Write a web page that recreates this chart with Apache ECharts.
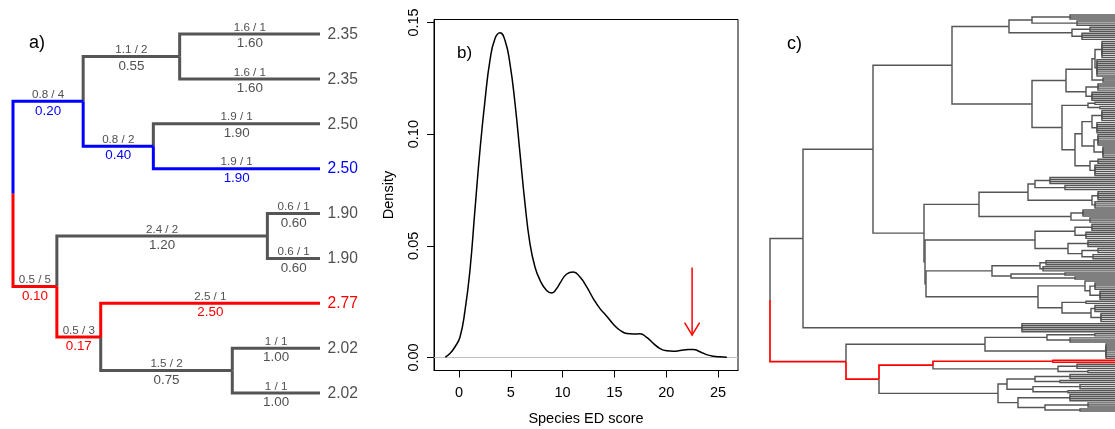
<!DOCTYPE html>
<html><head><meta charset="utf-8">
<script src="https://cdn.jsdelivr.net/npm/echarts@6/dist/echarts.min.js"></script>
<style>html,body{margin:0;padding:0;background:#fff}#c{width:1115px;height:429px}</style>
</head><body><div id="c"></div>
<script>
// ---------------- Panel a: small tree ----------------
const aParent    = [-1, 0, 1, 2, 2, 1, 5, 5, 0, 8, 9, 9, 8, 12, 12, 14, 14];
const aLength    = [0, 0.8, 1.1, 1.6, 1.6, 0.8, 1.9, 1.9, 0.5, 2.4, 0.6, 0.6, 0.5, 2.5, 1.5, 1, 1];
const aEdgeLabel = ["", "0.8 / 4", "1.1 / 2", "1.6 / 1", "1.6 / 1", "0.8 / 2", "1.9 / 1", "1.9 / 1", "0.5 / 5", "2.4 / 2", "0.6 / 1", "0.6 / 1", "0.5 / 3", "2.5 / 1", "1.5 / 2", "1 / 1", "1 / 1"];
const aShare     = ["", "0.20", "0.55", "1.60", "1.60", "0.40", "1.90", "1.90", "0.10", "1.20", "0.60", "0.60", "0.17", "2.50", "0.75", "1.00", "1.00"];
const aTipScore  = ["", "", "", "2.35", "2.35", "", "2.50", "2.50", "", "", "1.90", "1.90", "", "2.77", "", "2.02", "2.02"];
const aPath      = [0, 1, 0, 0, 0, 1, 0, 1, 2, 0, 0, 0, 2, 2, 0, 0, 0]; // 1 = blue path, 2 = red path

// ---------------- Panel b: density ----------------
const densX = [-1.32,-0.87,-0.39,0.10,0.58,1.06,1.54,2.03,2.51,2.99,3.47,3.96,4.44,4.92,5.41,5.89,6.37,6.85,7.34,7.82,8.46,8.95,9.43,9.75,10.4,11.03,11.68,12.33,12.96,13.61,14.26,14.9,15.54,16.19,16.83,17.47,18.12,18.76,19.4,20.05,20.7,21.33,22.14,22.6,23.26,23.9,24.55,25.2,25.85];
const densY = [0.0002,0.0018,0.0047,0.0092,0.021,0.039,0.066,0.093,0.115,0.133,0.1427,0.1454,0.142,0.1316,0.1137,0.0914,0.069,0.051,0.0404,0.0346,0.030,0.0289,0.0309,0.0333,0.0374,0.0383,0.036,0.0316,0.0264,0.0219,0.0185,0.0149,0.0122,0.0107,0.0105,0.0106,0.009,0.0063,0.004,0.003,0.0028,0.0031,0.0036,0.0036,0.0026,0.0013,0.0006,0.0003,0.0001];
const bTicksX = [0, 5, 10, 15, 20, 25];
const bTicksY = [0, 0.05, 0.10, 0.15];
const arrowX = 22.5, arrowFrom = 0.0403, arrowTo = 0.0100;

// ---------------- Panel c: large tree (node depths from root, tips at cTipDepth) ----------------
const cTipDepth = 345;
const cladeN1009 = "(((,,):300,(,,):307):262,((,,):320,(,,,):312):302):239";
const cladeN1066 = "((((,,,,,,,,):332,(,,,,,,,,):327):325,(,,):333):322,((,,,):328,(,,,,):322):316):296";
const cladeN1062 = "(((,):325,(,):330):318,((((,,,,,):332,(,,,,,):327):322,((,,,,,):328,(,,,,,):333):324):312,((,,):328,(,,,,,):325):320):305):292";
const cladeN979  = "((((,,,):280,(,,):295):265,((,,,,):328,(,,,):325):322):258,((,,,):313,(,,):320):301):209";
const cladeC243  = "(((,,,):322,(,,,):316):305,((,,,):318,((,,):328,(,,):323):312):298):265";
const cladeC271  = "(((,,):276,(,,):273):270,((,):295,(,):305):241):222";
const cladeC290  = "((,((,,,):325,(,,,,):330):320):315,((,):316,((,,,):325,(,,,,):331):321):292):268";
const cladeN1022 = "(,,,,):252";
const cladeN985  = "(((,):325,(,,):300):277,(,,,,,,,):336):215";
const cladeN933  = "((r,r)r:283,((,,):307,(,):318):288)r:163";
const cladeN998  = "((((,,):300,(,):290):265,((,,):310,(,):298):263):237,((,,,):300,((,,):318,(,):310):275):248):228";
const cTree =
  "(((((" + cladeN1009 + ",(" + cladeN1066 + "," + cladeN1062 + "):262):182," +
  "(" + cladeN979 + ",(" + cladeC243 + ",(" + cladeC271 + "," + cladeC290 + "):156):155):154):103," +
  cladeN1022 + "):33," +
  "(" + cladeN985 + ",(" + cladeN933 + "," + cladeN998 + ")r:109)r:76):0";

// ---------- build panel a geometry ----------
const aN = aParent.length;
const aChildren = aParent.map(() => []);
aParent.forEach((p, i) => { if (p >= 0) aChildren[p].push(i); });
const aDepth = new Array(aN).fill(0), aY = new Array(aN).fill(0);
let aTip = 1;
(function lay(i) {
  if (aParent[i] >= 0) aDepth[i] = aDepth[aParent[i]] + aLength[i];
  if (!aChildren[i].length) { aY[i] = aTip++; return; }
  aChildren[i].forEach(lay);
  aY[i] = aChildren[i].reduce((s, c) => s + aY[c], 0) / aChildren[i].length;
})(0);
const aEdges = [];
for (let i = 1; i < aN; i++) { const p = aParent[i]; aEdges.push([aDepth[p], aY[p], aDepth[i], aY[i], aPath[i]]); }
aEdges.sort((u, v) => (u[4] === 0 ? 0 : 1) - (v[4] === 0 ? 0 : 1));
const aLab = [], aLabIdx = [];
for (let i = 1; i < aN; i++) { aLab.push([(aDepth[aParent[i]] + aDepth[i]) / 2, aY[i]]); aLabIdx.push(i); }
const aTips = [], aTipIdx = [];
for (let i = 0; i < aN; i++) if (aTipScore[i]) { aTips.push([aDepth[i], aY[i]]); aTipIdx.push(i); }
const pathColor = ['#505050', '#0000ff', '#ff0000'];

// ---------- build panel c geometry ----------
function parseNewick(s) {
  let i = 0;
  function node() {
    const n = { children: [], label: '', d: null };
    if (s[i] === '(') {
      i++;
      n.children.push(node());
      while (s[i] === ',') { i++; n.children.push(node()); }
      i++;
    }
    let j = i; while (i < s.length && /[a-z]/.test(s[i])) i++;
    n.label = s.slice(j, i);
    if (s[i] === ':') { i++; j = i; while (i < s.length && /[0-9.]/.test(s[i])) i++; n.d = parseFloat(s.slice(j, i)); }
    return n;
  }
  return node();
}
const cRoot = parseNewick(cTree);
let cTipCount = 0;
(function lay(n) {
  if (!n.children.length) { n.y = cTipCount++; n.d = cTipDepth; return; }
  n.children.forEach(lay);
  n.y = n.children.reduce((s, c) => s + c.y, 0) / n.children.length;
})(cRoot);
const cEdges = [];
(function walk(n) {
  n.children.forEach(c => { cEdges.push([n.d, n.y, c.d, c.y, c.label === 'r' ? 1 : 0]); walk(c); });
})(cRoot);
cEdges.sort((u, v) => u[4] - v[4]);

const FONT = '"Liberation Sans", Arial, sans-serif';
const chart = echarts.init(document.getElementById('c'), null, { renderer: 'canvas' });

function edgeRender(widths, colors) {
  return function (params, api) {
    const p0 = api.coord([api.value(0), api.value(1)]);
    const p1 = api.coord([api.value(0), api.value(3)]);
    const p2 = api.coord([api.value(2), api.value(3)]);
    const k = api.value(4);
    return { type: 'polyline', shape: { points: [p0, p1, p2] },
      style: { stroke: colors[k], lineWidth: widths[k], fill: null, lineJoin: 'miter', lineCap: 'butt' } };
  };
}

const option = {
  animation: false,
  textStyle: { fontFamily: FONT },
  grid: [
    { left: 13, top: 34, width: 307, height: 359, outerBoundsMode: 'none' },
    { left: 434, top: 19.5, width: 304, height: 351, show: true, borderColor: '#000', borderWidth: 1, outerBoundsMode: 'none' },
    { left: 770, top: 15, width: 345, height: 396, outerBoundsMode: 'none' }
  ],
  xAxis: [
    { gridIndex: 0, type: 'value', min: 0, max: 3.5, show: false },
    { gridIndex: 1, type: 'value', min: -2.41, max: 26.93,
      axisLine: { show: true, onZero: false, lineStyle: { color: '#000', width: 1 } },
      axisTick: { show: true, inside: false, length: 7, customValues: bTicksX, lineStyle: { color: '#000' } },
      axisLabel: { customValues: bTicksX, margin: 15, fontSize: 14.5, color: '#000', fontFamily: FONT },
      splitLine: { show: false },
      name: 'Species ED score', nameLocation: 'middle', nameGap: 41,
      nameTextStyle: { fontSize: 14.5, color: '#000', fontFamily: FONT } },
    { gridIndex: 2, type: 'value', min: 0, max: cTipDepth, show: false }
  ],
  yAxis: [
    { gridIndex: 0, type: 'value', min: 1, max: aTip - 1, inverse: true, show: false },
    { gridIndex: 1, type: 'value', min: -0.00582, max: 0.15132,
      axisLine: { show: true, onZero: false, lineStyle: { color: '#000', width: 1 } },
      axisTick: { show: true, inside: false, length: 7, customValues: bTicksY, lineStyle: { color: '#000' } },
      axisLabel: { customValues: bTicksY, rotate: 90, margin: 13, fontSize: 14.5, color: '#000', fontFamily: FONT,
                   formatter: v => v.toFixed(2) },
      splitLine: { show: false },
      name: 'Density', nameLocation: 'middle', nameGap: 38, nameRotate: 90,
      nameTextStyle: { fontSize: 14.5, color: '#000', fontFamily: FONT } },
    { gridIndex: 2, type: 'value', min: 0, max: cTipCount - 1, inverse: true, show: false }
  ],
  graphic: [
    { type: 'text', left: 29, top: 34, style: { text: 'a)', font: '18px ' + FONT, fill: '#000' } },
    { type: 'text', left: 457, top: 45, style: { text: 'b)', font: '17px ' + FONT, fill: '#000' } },
    { type: 'text', left: 787, top: 35, style: { text: 'c)', font: '18px ' + FONT, fill: '#000' } }
  ],
  series: [
    { type: 'custom', xAxisIndex: 0, yAxisIndex: 0, clip: false,
      dimensions: ['px', 'py', 'cx', 'cy', 'k'], encode: { x: [0, 2], y: [1, 3] },
      data: aEdges, renderItem: edgeRender([3, 3, 3], ['#555555', '#0000ff', '#ff0000']) },
    { type: 'custom', xAxisIndex: 0, yAxisIndex: 0, clip: false,
      dimensions: ['x', 'y'], encode: { x: 0, y: 1 }, data: aLab,
      renderItem: (params, api) => {
        const i = aLabIdx[params.dataIndex];
        const p = api.coord([api.value(0), api.value(1)]);
        return { type: 'group', children: [
          { type: 'text', style: { text: aEdgeLabel[i], x: p[0], y: p[1] - 6.5, fill: '#505050',
              font: '11.6px ' + FONT, align: 'center', verticalAlign: 'middle', textAlign: 'center', textVerticalAlign: 'middle' } },
          { type: 'text', style: { text: aShare[i], x: p[0], y: p[1] + 9.5, fill: pathColor[aPath[i]],
              font: '13.4px ' + FONT, align: 'center', verticalAlign: 'middle', textAlign: 'center', textVerticalAlign: 'middle' } }
        ] };
      } },
    { type: 'custom', xAxisIndex: 0, yAxisIndex: 0, clip: false,
      dimensions: ['x', 'y'], encode: { x: 0, y: 1 }, data: aTips,
      renderItem: (params, api) => {
        const i = aTipIdx[params.dataIndex];
        const p = api.coord([api.value(0), api.value(1)]);
        return { type: 'text', style: { text: aTipScore[i], x: p[0] + 7.5, y: p[1] + 0.5, fill: pathColor[aPath[i]],
          font: '15.6px ' + FONT, align: 'left', verticalAlign: 'middle', textAlign: 'left', textVerticalAlign: 'middle' } };
      } },
    { type: 'line', xAxisIndex: 1, yAxisIndex: 1, showSymbol: false, smooth: 0.5,
      data: densX.map((x, i) => [x, densY[i]]),
      lineStyle: { color: '#000', width: 1.5 }, z: 3,
      markLine: { silent: true, symbol: 'none', label: { show: false },
        lineStyle: { color: '#bebebe', width: 1, type: 'solid' }, data: [{ yAxis: 0 }], z: 1 } },
    { type: 'custom', xAxisIndex: 1, yAxisIndex: 1, clip: false,
      dimensions: ['x', 'from', 'to'], encode: { x: 0, y: [1, 2] }, data: [[arrowX, arrowFrom, arrowTo]],
      renderItem: (params, api) => {
        const a = api.coord([api.value(0), api.value(1)]);
        const b = api.coord([api.value(0), api.value(2)]);
        const st = { stroke: '#ff0000', lineWidth: 1.5, fill: null };
        return { type: 'group', children: [
          { type: 'line', shape: { x1: a[0], y1: a[1], x2: b[0], y2: b[1] }, style: st },
          { type: 'polyline', shape: { points: [[b[0] - 7.5, b[1] - 12.5], b, [b[0] + 7.5, b[1] - 12.5]] }, style: st }
        ] };
      } },
    { type: 'custom', xAxisIndex: 2, yAxisIndex: 2, clip: false,
      dimensions: ['px', 'py', 'cx', 'cy', 'k'], encode: { x: [0, 2], y: [1, 3] },
      data: cEdges, renderItem: edgeRender([1.45, 1.7], ['#555555', '#ff0000']) }
  ]
};
chart.setOption(option);
</script></body></html>
